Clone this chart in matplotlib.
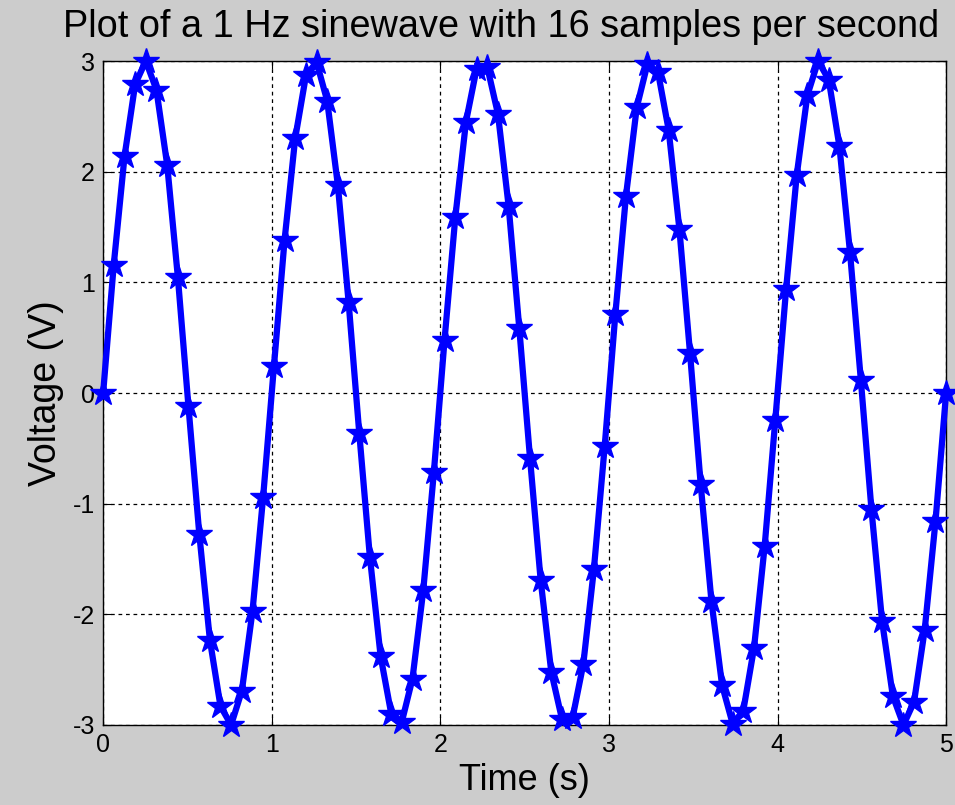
import matplotlib
matplotlib.use("Agg")
import matplotlib.pyplot as plt

time_s = [
    0.000, 0.063, 0.127, 0.190, 0.253, 0.316, 0.380, 0.443, 0.506, 0.570,
    0.633, 0.696, 0.759, 0.823, 0.886, 0.949, 1.013, 1.076, 1.139, 1.203,
    1.266, 1.329, 1.392, 1.456, 1.519, 1.582, 1.646, 1.709, 1.772, 1.835,
    1.899, 1.962, 2.025, 2.089, 2.152, 2.215, 2.278, 2.342, 2.405, 2.468,
    2.532, 2.595, 2.658, 2.722, 2.785, 2.848, 2.911, 2.975, 3.038, 3.101,
    3.165, 3.228, 3.291, 3.354, 3.418, 3.481, 3.544, 3.608, 3.671, 3.734,
    3.797, 3.861, 3.924, 3.987, 4.051, 4.114, 4.177, 4.241, 4.304, 4.367,
    4.430, 4.494, 4.557, 4.620, 4.684, 4.747, 4.810, 4.873, 4.937, 5.000,
]
voltage = [
    0.00, 1.16, 2.14, 2.79, 3.00, 2.74, 2.06, 1.05, -0.12, -1.27,
    -2.23, -2.83, -3.00, -2.69, -1.97, -0.94, 0.24, 1.38, 2.30, 2.87,
    2.99, 2.64, 1.88, 0.82, -0.36, -1.48, -2.38, -2.90, -2.97, -2.58,
    -1.78, -0.71, 0.48, 1.59, 2.45, 2.93, 2.95, 2.52, 1.69, 0.59,
    -0.59, -1.69, -2.52, -2.95, -2.93, -2.45, -1.59, -0.48, 0.71, 1.78,
    2.58, 2.97, 2.90, 2.38, 1.48, 0.36, -0.82, -1.88, -2.64, -2.99,
    -2.87, -2.30, -1.38, -0.24, 0.94, 1.97, 2.69, 3.00, 2.83, 2.23,
    1.27, 0.12, -1.05, -2.06, -2.74, -3.00, -2.79, -2.14, -1.16, 0.00,
]
x_ticks = [0, 1, 2, 3, 4, 5]
y_ticks = [-3, -2, -1, 0, 1, 2, 3]

plt.rcParams["font.family"] = ["Liberation Sans", "DejaVu Sans"]
plt.rcParams["axes.unicode_minus"] = False

fig = plt.figure(figsize=(9.55, 8.05), dpi=100, facecolor="#cccccc")
ax = fig.add_axes([0.108, 0.0994, 0.8827, 0.8248])

ax.plot(time_s, voltage, color="#0000ff", linewidth=4.5,
        marker="*", markersize=19, clip_on=False, zorder=3)

ax.set_xlim(0, 5)
ax.set_ylim(-3, 3)
ax.set_xticks(x_ticks)
ax.set_yticks(y_ticks)
ax.grid(True, color="black", linestyle=(0, (3, 3)), linewidth=0.9)
ax.tick_params(direction="in", top=True, right=True, length=6,
               labelsize=18, pad=6)
for s in ax.spines.values():
    s.set_linewidth(1.0)

ax.set_xlabel("Time (s)", fontsize=26, labelpad=4)
ax.set_ylabel("Voltage (V)", fontsize=27, labelpad=6)
# title sits slightly left of the axes centre in the original
fig.text(0.5245, 0.966, "Plot of a 1 Hz sinewave with 16 samples per second",
         fontsize=27.3, ha="center", va="center")

fig.savefig("out.png", dpi=100, facecolor=fig.get_facecolor())
